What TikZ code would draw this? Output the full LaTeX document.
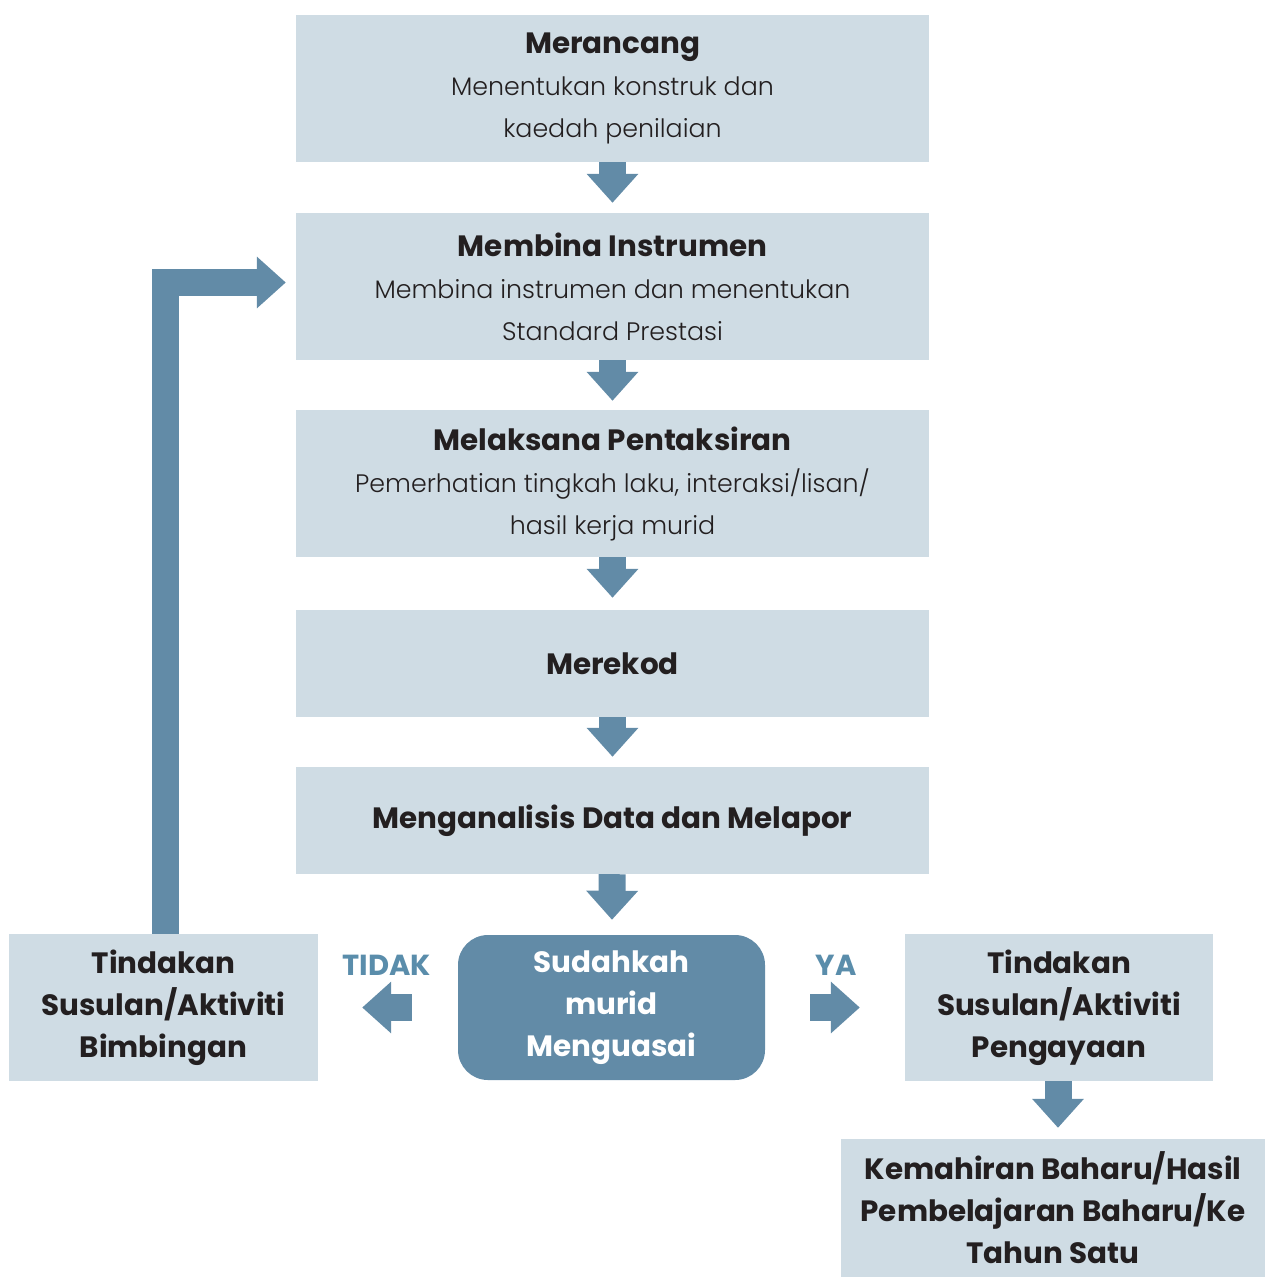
\documentclass[tikz,border=0pt]{standalone}
\usepackage{fontspec}
\setmainfont{Poppins}[UprightFont=* Light, BoldFont=* Bold]
\usetikzlibrary{arrows.meta}

\definecolor{boxfill}{HTML}{CFDCE4}
\definecolor{arrowblue}{HTML}{628BA7}
\definecolor{labelblue}{HTML}{5A8DAB}
\definecolor{textdark}{HTML}{231F20}

\newcommand{\stagetitle}[1]{{\fontsize{29.4}{42}\selectfont\bfseries #1}}

\begin{document}
\begin{tikzpicture}[x=1pt,y=-1pt]
	% Setup the styles for the boxes and the thick arrows
	\tikzset{stage box/.style={fill=boxfill, text=textdark, align=center,
			inner sep=0pt, minimum width=633pt, minimum height=147pt,
			font=\fontsize{25.3}{42}\selectfont},
		side box/.style={stage box, minimum width=309pt,
			font=\fontsize{29.4}{42}\selectfont\bfseries},
		flow arrow/.style={color=arrowblue, line width=27pt, line join=miter,
			-{Triangle[width=50pt, length=29pt]}},
		answer/.style={text=labelblue, inner sep=0pt,
			font=\fontsize{29}{30}\selectfont\bfseries}}
	
	\useasboundingbox (0,0) rectangle (1266,1279);
	
	\node[stage box] (merancang)   at (612.5,88.5)  {\stagetitle{Merancang}\\Menentukan konstruk dan\\kaedah penilaian};
	\node[stage box] (membina)     at (612.5,286.5) {\stagetitle{Membina Instrumen}\\Membina instrumen dan menentukan\\Standard Prestasi};
	\node[stage box] (melaksana)   at (612.5,483.5) {\stagetitle{Melaksana Pentaksiran}\\Pemerhatian tingkah laku, interaksi/lisan/\\hasil kerja murid};
	\node[side box, minimum width=633pt, minimum height=107pt] (merekod)  at (612.5,663.5) {Merekod};
	\node[side box, minimum width=633pt, minimum height=107pt] (menganalisis) at (612.5,820.5) {Menganalisis Data dan Melapor};
	
	\node[side box, fill=arrowblue, text=white, minimum width=307pt,
		minimum height=145pt, rounded corners=30pt] (sudahkah) at (611.5,1007.5) {Sudahkah\\murid\\Menguasai};
	\node[side box] (bimbingan)  at (163.5,1007.5) {Tindakan\\Susulan/Aktiviti\\Bimbingan};
	\node[side box, minimum width=308pt] (pengayaan) at (1059,1007.5) {Tindakan\\Susulan/Aktiviti\\Pengayaan};
	\node[side box, minimum width=424pt, minimum height=138pt] (kemahiran) at (1053,1208) {Kemahiran Baharu/Hasil\\Pembelajaran Baharu/Ke\\Tahun Satu};
	
	\node[answer] (tidak) at (387,965) {TIDAK};
	\node[answer] (ya)    at (836,965) {YA};
	
	\draw[flow arrow]
	(merancang)    edge[shorten >=10pt] (membina)
	(membina)      edge[shorten >=9pt]  (melaksana)
	(melaksana)    edge[shorten >=12pt] (merekod)
	(merekod)      edge[shorten >=10pt] (menganalisis)
	(menganalisis) edge[shorten >=15pt] (sudahkah)
	(sudahkah)     edge[shorten <=46pt, shorten >=44pt] (bimbingan)
	(sudahkah)     edge[shorten <=45pt, shorten >=45pt] (pengayaan);
	
	\draw[flow arrow, shorten >=11pt] ([xshift=-1pt]pengayaan.south) -- ([xshift=-1pt]pengayaan.south |- kemahiran.north);
	\draw[flow arrow, shorten >=10pt] ([xshift=2pt]bimbingan.north) |- ([yshift=4pt]membina.west);
\end{tikzpicture}
\end{document}
